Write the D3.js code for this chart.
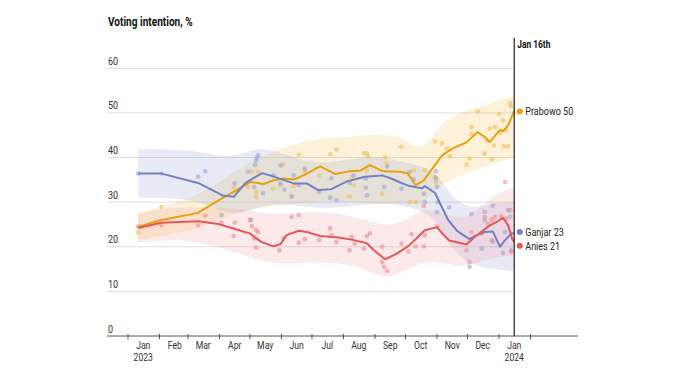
<!DOCTYPE html>
<html><head><meta charset="utf-8">
<script src="https://cdn.jsdelivr.net/npm/d3@7"></script>
<style>
html,body{margin:0;padding:0;background:#fff;}
svg{display:block;font-family:"Roboto","Liberation Sans",sans-serif;}
</style></head>
<body><svg id="c" width="673" height="379"></svg>
<script>
// ---------- DATA ----------
const title = "Voting intention, %";
const yTicks = [0, 10, 20, 30, 40, 50, 60];
const monthLabels = ["Jan","Feb","Mar","Apr","May","Jun","Jul","Aug","Sep","Oct","Nov","Dec","Jan"];
const markerDate = "2024-01-16";
const markerLabel = "Jan 16th";

const prabowoTrend = [["2023-01-11",24.5],["2023-02-03",26.0],["2023-03-11",27.6],["2023-03-18",28.6],["2023-04-03",30.8],["2023-04-15",32.3],["2023-04-26",33.8],["2023-05-01",34.5],["2023-05-09",34.3],["2023-05-14",34.0],["2023-05-24",34.9],["2023-06-03",35.3],["2023-06-14",35.1],["2023-06-26",36.4],["2023-07-09",38.0],["2023-07-24",36.3],["2023-08-07",36.9],["2023-08-18",37.1],["2023-08-27",38.3],["2023-09-09",36.9],["2023-09-26",36.8],["2023-10-03",36.5],["2023-10-11",33.8],["2023-10-19",34.9],["2023-10-29",38.0],["2023-11-06",40.5],["2023-11-16",42.0],["2023-11-30",43.4],["2023-12-11",45.7],["2023-12-18",44.6],["2023-12-23",43.5],["2024-01-02",46.2],["2024-01-05",45.9],["2024-01-10",47.2],["2024-01-16",50.5]];
const ganjarTrend = [["2023-01-11",36.4],["2023-02-03",36.4],["2023-03-11",34.3],["2023-04-04",31.5],["2023-04-15",31.2],["2023-04-27",34.4],["2023-05-13",36.5],["2023-05-26",35.6],["2023-06-13",34.2],["2023-06-26",34.2],["2023-07-07",32.7],["2023-07-20",32.9],["2023-08-05",34.7],["2023-08-22",35.7],["2023-09-08",36.0],["2023-09-17",35.3],["2023-09-27",34.3],["2023-10-05",33.6],["2023-10-17",33.1],["2023-10-20",33.6],["2023-10-30",32.1],["2023-11-04",29.7],["2023-11-12",26.0],["2023-11-21",23.5],["2023-12-03",21.7],["2023-12-09",22.5],["2023-12-18",23.3],["2023-12-26",23.4],["2024-01-02",20.0],["2024-01-07",21.5],["2024-01-13",23.0],["2024-01-16",23.0]];
const aniesTrend = [["2023-01-11",24.2],["2023-02-03",25.4],["2023-03-11",25.7],["2023-03-31",25.1],["2023-04-26",23.3],["2023-05-01",23.0],["2023-05-12",21.1],["2023-05-24",20.1],["2023-05-31",20.6],["2023-06-06",22.6],["2023-06-18",23.6],["2023-06-26",23.3],["2023-07-09",22.4],["2023-07-27",22.1],["2023-08-09",21.6],["2023-08-24",20.8],["2023-08-31",19.2],["2023-09-11",17.2],["2023-09-22",18.4],["2023-10-04",20.2],["2023-10-12",21.9],["2023-10-20",23.7],["2023-11-01",24.4],["2023-11-06",23.0],["2023-11-13",21.4],["2023-11-30",20.5],["2023-12-08",22.2],["2023-12-15",23.4],["2023-12-23",24.8],["2023-12-30",25.6],["2024-01-05",26.5],["2024-01-10",24.8],["2024-01-14",21.8],["2024-01-16",21.0]];

// uncertainty bands: [date, low, high]
const prabowoBand = [["2023-01-11",21.5,27.5],["2023-02-03",22.5,29.0],["2023-03-11",24.0,31.5],["2023-04-04",26.5,35.0],["2023-05-01",28.5,39.0],["2023-06-03",29.5,42.5],["2023-07-09",30.0,44.5],["2023-08-07",30.0,44.5],["2023-09-09",29.5,45.5],["2023-10-03",29.5,44.0],["2023-10-19",29.5,41.0],["2023-11-06",34.5,48.5],["2023-11-30",36.5,50.5],["2023-12-23",38.5,52.0],["2024-01-16",40.0,54.0]];
const ganjarBand = [["2023-01-11",31.0,41.8],["2023-02-03",31.0,42.0],["2023-03-11",30.5,41.5],["2023-04-04",27.5,40.0],["2023-04-27",27.5,41.0],["2023-05-13",29.5,42.5],["2023-06-13",29.5,40.0],["2023-07-07",28.5,38.5],["2023-08-05",29.0,39.5],["2023-09-08",30.0,40.5],["2023-10-05",29.0,38.5],["2023-10-30",27.0,37.5],["2023-11-12",20.0,32.0],["2023-12-03",16.0,28.0],["2023-12-26",15.0,30.0],["2024-01-16",14.5,30.0]];
const aniesBand = [["2023-01-11",21.0,27.5],["2023-02-03",21.5,28.5],["2023-03-11",21.5,29.0],["2023-04-26",18.0,28.5],["2023-05-24",16.0,27.0],["2023-06-26",16.5,28.0],["2023-07-27",16.5,27.5],["2023-08-24",15.0,26.0],["2023-09-11",12.5,24.5],["2023-10-04",15.0,26.0],["2023-10-20",17.0,29.0],["2023-11-13",16.0,27.0],["2023-11-30",15.5,26.0],["2023-12-23",17.5,31.0],["2024-01-16",18.0,33.5]];

// individual polls
const prabowoPolls = [["2023-01-11",23.2],["2023-02-03",28.9],["2023-04-15",33.2],["2023-04-29",33.4],["2023-05-03",36.8],["2023-05-07",32.3],["2023-05-07",31.2],["2023-05-09",36.8],["2023-05-24",33.0],["2023-05-31",33.8],["2023-06-03",38.5],["2023-06-11",31.4],["2023-06-13",33.6],["2023-06-18",40.6],["2023-06-24",37.0],["2023-07-08",36.0],["2023-07-19",40.7],["2023-07-25",41.8],["2023-08-07",31.3],["2023-08-09",35.6],["2023-08-11",33.8],["2023-08-21",41.0],["2023-08-24",40.9],["2023-08-24",37.1],["2023-08-25",40.3],["2023-09-08",31.9],["2023-09-11",40.1],["2023-09-12",38.8],["2023-09-27",42.4],["2023-10-05",30.0],["2023-10-09",37.1],["2023-10-11",30.0],["2023-10-20",37.1],["2023-10-30",35.6],["2023-10-31",34.5],["2023-10-30",43.6],["2023-11-06",43.2],["2023-11-11",42.0],["2023-11-14",40.3],["2023-11-30",38.4],["2023-12-03",39.8],["2023-12-05",46.8],["2023-12-05",45.3],["2023-12-11",50.3],["2023-12-18",40.9],["2023-12-20",43.8],["2023-12-23",46.5],["2023-12-25",39.6],["2023-12-27",42.7],["2023-12-28",46.8],["2024-01-01",49.8],["2024-01-02",45.5],["2024-01-05",48.3],["2024-01-06",42.5],["2024-01-10",42.5],["2024-01-08",46.1],["2024-01-12",52.2],["2024-01-13",51.5]];
const ganjarPolls = [["2023-01-11",36.4],["2023-02-03",36.4],["2023-03-11",35.7],["2023-03-18",36.9],["2023-04-03",27.1],["2023-04-16",34.2],["2023-04-29",36.8],["2023-05-02",26.0],["2023-05-06",38.3],["2023-05-07",39.3],["2023-05-08",40.0],["2023-05-09",40.5],["2023-05-05",33.4],["2023-05-14",32.0],["2023-05-24",36.0],["2023-05-31",38.2],["2023-05-31",34.2],["2023-06-04",32.8],["2023-06-11",31.2],["2023-06-13",36.0],["2023-06-18",33.8],["2023-06-24",37.5],["2023-07-08",32.3],["2023-07-19",31.0],["2023-07-20",35.3],["2023-07-25",30.4],["2023-08-07",34.3],["2023-08-11",36.0],["2023-08-23",35.3],["2023-08-23",33.2],["2023-08-24",31.5],["2023-09-10",33.4],["2023-09-13",38.0],["2023-09-27",33.0],["2023-10-05",36.8],["2023-10-09",35.1],["2023-10-19",31.9],["2023-10-20",30.0],["2023-10-31",36.9],["2023-10-31",35.3],["2023-11-01",33.4],["2023-11-02",30.0],["2023-11-01",27.8],["2023-11-13",28.8],["2023-12-03",15.5],["2023-12-05",27.3],["2023-12-15",19.6],["2023-12-18",27.8],["2023-12-18",26.0],["2023-12-26",29.2],["2023-12-26",21.1],["2024-01-05",18.6],["2024-01-07",23.3],["2024-01-10",28.2],["2024-01-12",26.7],["2024-01-13",19.2]];
const aniesPolls = [["2023-01-11",24.5],["2023-02-03",24.8],["2023-03-11",24.8],["2023-03-18",27.0],["2023-04-03",25.4],["2023-04-16",25.4],["2023-04-15",22.4],["2023-05-01",26.0],["2023-05-03",24.6],["2023-05-07",23.7],["2023-05-09",23.3],["2023-05-05",21.9],["2023-05-07",19.8],["2023-05-30",19.2],["2023-06-03",21.9],["2023-06-11",26.7],["2023-06-18",27.1],["2023-06-18",20.9],["2023-06-24",21.7],["2023-07-08",21.5],["2023-07-19",24.1],["2023-07-20",22.6],["2023-07-25",21.1],["2023-08-07",19.2],["2023-08-09",22.2],["2023-08-12",20.7],["2023-08-21",19.6],["2023-08-24",22.4],["2023-08-27",23.0],["2023-09-08",20.0],["2023-09-08",16.6],["2023-09-10",15.5],["2023-09-13",14.6],["2023-09-27",20.7],["2023-10-04",18.9],["2023-10-07",22.8],["2023-10-11",20.1],["2023-10-19",20.1],["2023-10-19",29.1],["2023-10-20",22.6],["2023-11-01",24.5],["2023-11-30",19.2],["2023-12-03",16.6],["2023-12-05",23.3],["2023-12-15",23.0],["2023-12-18",26.7],["2023-12-21",25.2],["2023-12-25",26.0],["2023-12-28",26.7],["2023-12-25",21.5],["2024-01-03",26.8],["2024-01-07",34.5],["2024-01-08",26.3],["2024-01-12",28.2],["2024-01-13",18.9]];

const seriesNames = ["Prabowo", "Ganjar", "Anies"];
const latestValues = [50, 23, 21];

// ---------- CHART ----------
const parse = d3.timeParse("%Y-%m-%d");
const svg = d3.select("#c");
const x = d3.scaleTime().domain([parse("2023-01-01"), parse("2024-01-01")]).range([128, 499]);
const y = d3.scaleLinear().domain([0, 60]).range([336, 68.3]);
const xLeft = 107, xAxisRight = 578;
const xMarker = x(parse(markerDate));
const SX = 0.82; // horizontal condensing for text

function label(parent, tx, ty, str, opts) {
  const t = parent.append("text")
    .attr("transform", `translate(${tx},${ty}) scale(${opts.sx || SX},1)`)
    .attr("font-size", opts.size).attr("fill", opts.fill || "#333")
    .attr("text-anchor", opts.anchor || "start").text(str);
  if (opts.bold) t.attr("font-weight", "bold");
  return t;
}

const colors = {
  Prabowo: {line:"#E8A10C", dot:"#F0BE55", band:"#F7C550"},
  Ganjar:  {line:"#7280C4", dot:"#9CA5D6", band:"#98A4D4"},
  Anies:   {line:"#E7565B", dot:"#EE8C90", band:"#F29A9C"}
};
const series = [
  {name:"Prabowo", trend:prabowoTrend, band:prabowoBand, polls:prabowoPolls},
  {name:"Ganjar", trend:ganjarTrend, band:ganjarBand, polls:ganjarPolls},
  {name:"Anies", trend:aniesTrend, band:aniesBand, polls:aniesPolls}
];

// title
label(svg, 108, 26, title, {size: 12, bold: true, fill: "#111", sx: 0.84});

// grid + y labels
const g = svg.append("g");
yTicks.forEach(v => {
  if (v > 0) g.append("line").attr("x1", xLeft).attr("x2", xMarker).attr("y1", y(v)).attr("y2", y(v))
    .attr("stroke", "#dedede").attr("stroke-width", 1);
  label(g, 108, y(v) - 3.5, String(v), {size: 11});
});

// bands
series.forEach(s => {
  const area = d3.area().curve(d3.curveBasis)
    .x(d => x(parse(d[0]))).y0(d => y(d[1])).y1(d => y(d[2]));
  svg.append("path").datum(s.band).attr("d", area)
    .attr("fill", colors[s.name].band).attr("fill-opacity", 0.22);
});

// polls
series.forEach(s => {
  svg.append("g").selectAll("circle").data(s.polls).join("circle")
    .attr("cx", d => x(parse(d[0]))).attr("cy", d => y(d[1])).attr("r", 2.4)
    .attr("fill", colors[s.name].dot).attr("fill-opacity", 0.6);
});

// trend lines
series.forEach(s => {
  const line = d3.line().curve(d3.curveLinear).x(d => x(parse(d[0]))).y(d => y(d[1]));
  svg.append("path").datum(s.trend).attr("d", line).attr("fill", "none")
    .attr("stroke", colors[s.name].line).attr("stroke-width", 2).attr("stroke-linejoin", "round");
});

// x axis
const ax = svg.append("g");
ax.append("line").attr("x1", xLeft).attr("x2", xAxisRight).attr("y1", 336).attr("y2", 336)
  .attr("stroke", "#555").attr("stroke-width", 1);
const tickDates = d3.timeMonth.range(parse("2023-01-01"), parse("2024-02-02"));
ax.selectAll("line.t").data(tickDates).join("line").attr("class", "t")
  .attr("x1", d => x(d)).attr("x2", d => x(d)).attr("y1", 334).attr("y2", 339)
  .attr("stroke", "#555").attr("stroke-width", 1);
const labelMonths = d3.timeMonth.range(parse("2023-01-01"), parse("2024-01-02"));
labelMonths.forEach((d, i) => {
  const mid = new Date(d.getFullYear(), d.getMonth(), 16);
  label(ax, x(mid), 349, monthLabels[i], {size: 10.5, anchor: "middle"});
  if (d.getMonth() === 0) label(ax, x(mid), 361, String(d.getFullYear()), {size: 10.5, anchor: "middle"});
});

// marker line
svg.append("line").attr("x1", xMarker).attr("x2", xMarker).attr("y1", 38).attr("y2", 336)
  .attr("stroke", "#333").attr("stroke-width", 1.3);
label(svg, xMarker + 3, 48, markerLabel, {size: 10.5, bold: true, fill: "#111", sx: 0.8});

// end labels
const labelY = {Prabowo: y(50.3), Ganjar: y(23.3), Anies: y(20.2)};
seriesNames.forEach((n, i) => {
  svg.append("circle").attr("cx", xMarker + 5.5).attr("cy", labelY[n]).attr("r", 3).attr("fill", colors[n].line);
  label(svg, xMarker + 11, labelY[n] + 3.8, n + " " + latestValues[i], {size: 10.5, fill: "#222", sx: 0.86});
});
</script></body></html>
